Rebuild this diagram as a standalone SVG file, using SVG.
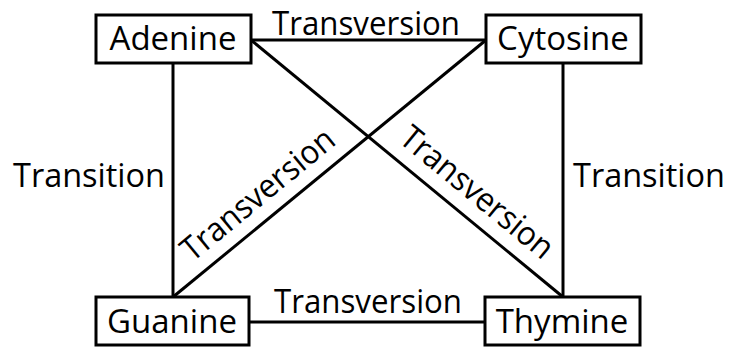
<svg xmlns="http://www.w3.org/2000/svg" width="730" height="347" viewBox="0 0 730 347">
<style>
.box{fill:#fff;stroke:#000;stroke-width:3}
.ln{stroke:#000;stroke-width:3;fill:none}
text{font-family:"Open Sans","Liberation Sans",sans-serif;font-size:33px;fill:#000;text-anchor:middle}
</style>
<rect width="730" height="347" fill="#fff"/>
<g id="connectors">
<line class="ln" x1="251" y1="40" x2="486" y2="40"/>
<line class="ln" x1="249" y1="322" x2="485" y2="322"/>
<line class="ln" x1="173" y1="63" x2="173" y2="297"/>
<line class="ln" x1="563" y1="63" x2="563" y2="297"/>
<line class="ln" x1="251" y1="40" x2="563" y2="297"/>
<line class="ln" x1="486" y1="40" x2="173" y2="297"/>
<text x="366" y="35" textLength="188" lengthAdjust="spacingAndGlyphs">Transversion</text>
<text x="368" y="313" textLength="188" lengthAdjust="spacingAndGlyphs">Transversion</text>
<text x="89" y="187" textLength="152" lengthAdjust="spacingAndGlyphs">Transition</text>
<text x="649" y="187" textLength="152" lengthAdjust="spacingAndGlyphs">Transition</text>
<text transform="translate(265,203) rotate(-39.4)" textLength="188" lengthAdjust="spacingAndGlyphs">Transversion</text>
<text transform="translate(470,201) rotate(39.5)" textLength="188" lengthAdjust="spacingAndGlyphs">Transversion</text>
</g>
<g id="adenine"><rect class="box" x="96" y="15" width="155" height="48"/><text x="173" y="50">Adenine</text></g>
<g id="cytosine"><rect class="box" x="486" y="15" width="155" height="48"/><text x="563" y="50">Cytosine</text></g>
<g id="guanine"><rect class="box" x="96" y="297" width="153" height="48"/><text x="172" y="333">Guanine</text></g>
<g id="thymine"><rect class="box" x="485" y="297" width="155" height="48"/><text x="562" y="333">Thymine</text></g>
</svg>
